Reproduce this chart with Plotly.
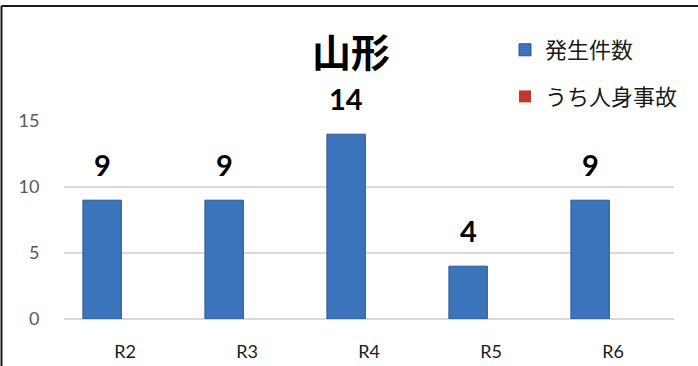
import plotly.graph_objects as go

categories = ["R2", "R3", "R4", "R5", "R6"]
occurrences = [9, 9, 14, 4, 9]
injury_accidents = [0, 0, 0, 0, 0]
y_ticks = [0, 5, 10, 15]
title_text = "山形"
series_names = ["発生件数", "うち人身事故"]

W, H = 698, 366
ML, MR, MT, MB = 64, 24, 121, 47
PW = W - ML - MR
PH = H - MT - MB

JP = "Noto Sans CJK JP"
NUM = "Lato"

fig = go.Figure()
fig.add_trace(go.Bar(
    x=categories, y=occurrences, name=series_names[0],
    marker=dict(color="#3C74BC", line=dict(color="#2A5890", width=1)),
    legendgroup="a",
))
fig.add_trace(go.Bar(
    x=categories, y=injury_accidents, name=series_names[1],
    marker=dict(color="#C0392F", line=dict(color="#8E2420", width=0)),
    legendgroup="b",
))

for c, v in zip(categories, occurrences):
    fig.add_annotation(
        x=c, y=v, xref="x", yref="y", text=f"<b>{v}</b>", showarrow=False,
        yanchor="bottom", xanchor="center", xshift=-23, yshift=16,
        font=dict(family=NUM, size=29, color="#000000"),
    )

def px_to_paper_x(px):
    return (px - ML) / PW

def px_to_paper_y(py):
    return (H - MB - py) / PH

fig.add_shape(type="line", xref="paper", yref="paper",
              x0=px_to_paper_x(1.5), x1=px_to_paper_x(1.5),
              y0=px_to_paper_y(6), y1=px_to_paper_y(H + 5),
              line=dict(color="#1a1a1a", width=2))
fig.add_shape(type="line", xref="paper", yref="paper",
              x0=px_to_paper_x(1.5), x1=px_to_paper_x(W + 5),
              y0=px_to_paper_y(6), y1=px_to_paper_y(6),
              line=dict(color="#1a1a1a", width=2))

fig.update_layout(
    width=W, height=H,
    margin=dict(l=ML, r=MR, t=MT, b=MB, pad=0, autoexpand=False),
    paper_bgcolor="white", plot_bgcolor="white",
    barmode="group", bargap=0.25, bargroupgap=0.16,
    title=dict(text=f"<b>{title_text}</b>", x=351 / W, xref="container", xanchor="center",
               y=1 - 53 / H, yref="container", yanchor="middle",
               font=dict(family=JP, size=39, color="#000000")),
    legend=dict(x=505 / W, xref="container", xanchor="left",
                y=1 - 29 / H, yref="container", yanchor="top",
                font=dict(family=JP, size=22, color="#1a1a1a"),
                tracegroupgap=15, traceorder="grouped", bgcolor="rgba(0,0,0,0)",
                itemwidth=30),
    showlegend=True,
    xaxis=dict(showgrid=False, showline=False, zeroline=False,
               tickfont=dict(family=NUM, size=18, color="#1a1a1a"),
               ticks="outside", ticklen=16, tickcolor="rgba(0,0,0,0)"),
    yaxis=dict(range=[0, 15], tickvals=y_ticks, showgrid=True, gridcolor="#D9D9D9",
               gridwidth=1.5, zeroline=True, zerolinecolor="#D9D9D9", zerolinewidth=1.5,
               showline=False,
               tickfont=dict(family=NUM, size=18, color="#595959"),
               ticks="outside", ticklen=20, tickcolor="rgba(0,0,0,0)"),
)

fig.write_html("out.html", config={"displayModeBar": False},
               post_script="document.body.style.margin='0';document.body.style.overflow='hidden';")
